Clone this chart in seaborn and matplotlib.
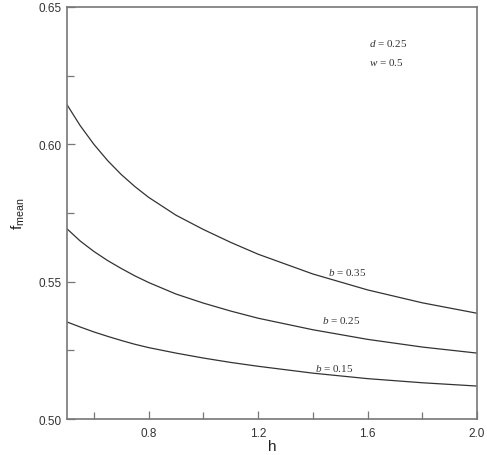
import pandas as pd
import seaborn as sns
import matplotlib.pyplot as plt
from matplotlib.ticker import MultipleLocator

# Values
h = [0.5, 0.55, 0.6, 0.65, 0.7, 0.75, 0.8, 0.9, 1.0, 1.1, 1.2, 1.4, 1.6, 1.8, 2.0]
f_b035 = [0.6147, 0.6068, 0.6000, 0.5941, 0.5890, 0.5846, 0.5807, 0.5742, 0.5690,
          0.5643, 0.5600, 0.5528, 0.5470, 0.5423, 0.5385]
f_b025 = [0.5694, 0.5648, 0.5610, 0.5577, 0.5548, 0.5521, 0.5497, 0.5455, 0.5422,
          0.5393, 0.5367, 0.5325, 0.5290, 0.5262, 0.5240]
f_b015 = [0.5354, 0.5335, 0.5317, 0.5301, 0.5286, 0.5272, 0.5260, 0.5240, 0.5222,
          0.5206, 0.5192, 0.5167, 0.5147, 0.5132, 0.5120]
b_labels = ['b = 0.35', 'b = 0.25', 'b = 0.15']
label_pos = [(1.525, 0.5536), (1.502, 0.5361), (1.478, 0.5189)]

sns.set_style('ticks')
plt.rcParams['font.family'] = ['Liberation Sans', 'DejaVu Sans']
plt.rcParams['mathtext.fontset'] = 'custom'
plt.rcParams['mathtext.rm'] = 'Liberation Sans'
plt.rcParams['mathtext.it'] = 'Liberation Serif:italic'

df = pd.DataFrame({
    'h': h * 3,
    'f': f_b035 + f_b025 + f_b015,
    'b': [b_labels[0]] * len(h) + [b_labels[1]] * len(h) + [b_labels[2]] * len(h),
})

fig = plt.figure(figsize=(4.87, 4.56), dpi=100)
ax = fig.add_axes([0.1366, 0.0789, 0.843, 0.9036])

sns.lineplot(data=df, x='h', y='f', hue='b', palette=['#333333'] * 3,
             linewidth=0.9, legend=False, ax=ax)

ax.set_xlim(0.5, 2.0)
ax.set_ylim(0.50, 0.65)
ax.xaxis.set_minor_locator(MultipleLocator(0.2))
ax.set_xticks([0.8, 1.2, 1.6, 2.0])
ax.set_xticklabels(['0.8', '1.2', '1.6', '2.0'])
ax.yaxis.set_major_locator(MultipleLocator(0.05))
ax.yaxis.set_minor_locator(MultipleLocator(0.025))
ax.yaxis.set_major_formatter(plt.FormatStrFormatter('%.2f'))

ax.tick_params(which='both', direction='in', colors='#777777', labelcolor='#333333',
               labelsize=8.5, top=False, right=False)
ax.tick_params(axis='x', which='major', pad=6)
ax.tick_params(which='major', length=6, width=0.9)
ax.tick_params(which='minor', length=5, width=0.9)
for s in ax.spines.values():
    s.set_visible(True)
    s.set_color('#777777')
    s.set_linewidth(1.2)

ax.set_xlabel('h', fontsize=11, color='#222222', labelpad=0)
ax.set_ylabel(r'$\mathregular{f_{mean}}$', fontsize=11, color='#222222', labelpad=8)

for lab, (x, y) in zip(b_labels, label_pos):
    ax.text(x, y, r'$b$' + lab[1:], family='Liberation Serif', fontsize=8,
            color='#333333', ha='center', va='center')

ax.text(1.605, 0.637, r'$d$ = 0.25', family='Liberation Serif', fontsize=8,
        color='#333333', ha='left', va='center')
ax.text(1.605, 0.6303, r'$w$ = 0.5', family='Liberation Serif', fontsize=8,
        color='#333333', ha='left', va='center')

fig.savefig('out.png', dpi=100)
